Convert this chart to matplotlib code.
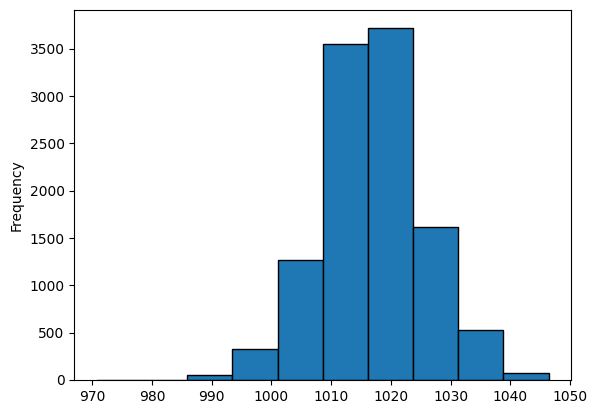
import numpy as np
import matplotlib
matplotlib.use("Agg")
import matplotlib.pyplot as plt

# bin edges and counts
bin_start = 970.8
bin_end = 1046.4
n_bins = 10
counts = [3, 2, 55, 330, 1270, 3550, 3720, 1620, 530, 75]

edges = np.linspace(bin_start, bin_end, n_bins + 1)

fig, ax = plt.subplots(figsize=(5.95, 4.13), dpi=100)
ax.hist(edges[:-1], bins=edges, weights=counts, color="#1f77b4", edgecolor="black")
ax.set_ylabel("Frequency")
ax.set_xticks(np.arange(970, 1051, 10))
fig.subplots_adjust(left=0.125, right=0.96, top=0.975, bottom=0.08)
fig.savefig("out.png", dpi=100)
